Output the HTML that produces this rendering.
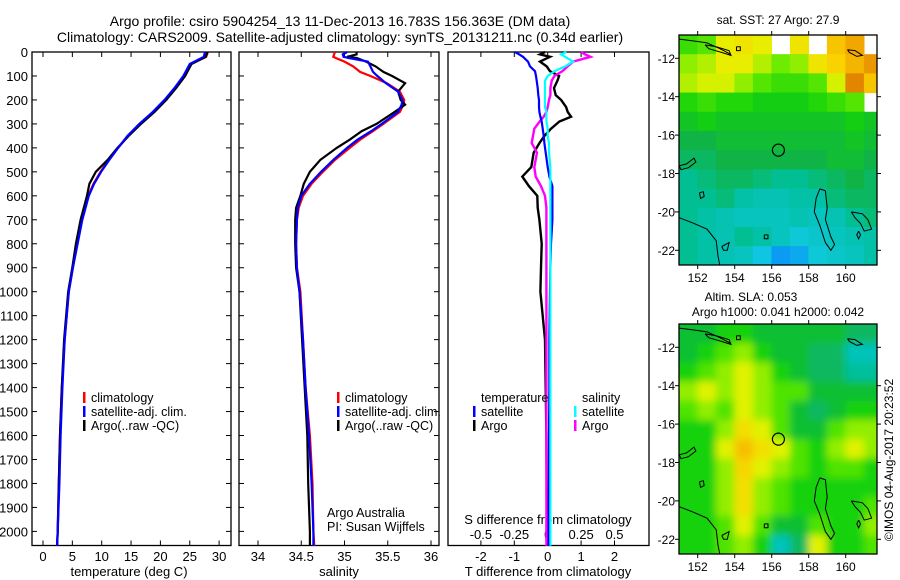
<!DOCTYPE html>
<html><head><meta charset="utf-8">
<style>
html,body{margin:0;padding:0;background:#fff;}
svg{display:block;font-family:"Liberation Sans",sans-serif;}
text{font-size:13px;fill:#000;}
</style></head>
<body>
<svg id="fig" width="900" height="580" viewBox="0 0 900 580" xmlns="http://www.w3.org/2000/svg">
<text x="340" y="26" text-anchor="middle" style="font-size:14px">Argo profile: csiro 5904254_13 11-Dec-2013 16.783S 156.363E (DM data)</text>
<text x="340" y="42" text-anchor="middle" style="font-size:14px">Climatology: CARS2009. Satellite-adjusted climatology: synTS_20131211.nc (0.34d earlier)</text>
<g id="g1"></g>
<g id="g2"></g>
<g id="g3"></g>
<g id="m1"></g>
<g id="m2"></g>
<text x="778" y="24" text-anchor="middle" style="font-size:12px">sat. SST: 27 Argo: 27.9</text>
<text x="751" y="301" text-anchor="middle" style="font-size:12px">Altim. SLA: 0.053</text>
<text x="778" y="316" text-anchor="middle" style="font-size:12px">Argo h1000: 0.041 h2000: 0.042</text>
<text transform="translate(893,460) rotate(-90)" text-anchor="middle" style="font-size:12px">©IMOS 04-Aug-2017 20:23:52</text>
</svg>
<script>
// ---------- profile data ----------
const depthT = [0,20,50,100,150,200,250,300,350,400,450,500,550,600,700,800,900,1000,1200,1400,1600,1800,2000,2060];
const tempClim = [28.1,27.8,25.2,24.0,22.5,20.8,18.8,16.5,14.5,12.8,11.2,9.8,8.6,7.7,6.6,5.8,5.1,4.4,3.7,3.2,2.9,2.7,2.5,2.4];
const tempSat  = [27.6,27.4,25.0,23.9,22.4,20.7,18.7,16.4,14.4,12.8,11.3,9.9,8.7,7.8,6.7,5.9,5.1,4.4,3.7,3.3,3.0,2.8,2.5,2.4];
const tempArgo = [28.0,27.7,25.3,24.2,22.7,21.0,19.0,16.7,14.6,12.7,11.0,9.0,7.9,7.5,6.4,5.6,5.0,4.3,3.6,3.2,2.9,2.7,2.5,2.4];

const depthS = [0,10,20,25,40,60,83,100,130,165,200,220,250,300,330,366,400,450,500,550,600,650,700,800,900,1000,1200,1400,1600,1800,2000,2060];
const salClim = [34.89,34.88,34.87,34.90,35.00,35.10,35.18,35.30,35.49,35.64,35.69,35.68,35.64,35.45,35.33,35.18,35.06,34.89,34.75,34.62,34.52,34.47,34.45,34.44,34.45,34.49,34.52,34.55,34.60,34.63,34.64,34.65];
const salSat  = [35.03,34.98,34.99,35.05,35.27,35.30,35.33,35.38,35.48,35.62,35.67,35.66,35.62,35.43,35.31,35.15,35.03,34.87,34.73,34.60,34.50,34.46,34.45,34.44,34.45,34.48,34.52,34.55,34.59,34.62,34.64,34.64];
const salArgo = [35.14,35.14,35.03,35.14,35.25,35.36,35.45,35.55,35.70,35.62,35.65,35.70,35.58,35.37,35.20,35.06,34.91,34.72,34.60,34.53,34.49,34.44,34.43,34.43,34.44,34.48,34.51,34.54,34.57,34.58,34.60,34.60];

const depthD = [0,10,20,40,60,80,100,120,150,180,200,230,250,270,290,320,350,380,420,480,520,560,600,650,700,800,900,1000,1100,1200,1400,1600,1800,2000,2060];
const dTsat  = [-0.98,-0.85,-0.74,-0.59,-0.53,-0.38,-0.35,-0.33,-0.30,-0.28,-0.26,-0.26,-0.25,-0.22,-0.18,-0.15,-0.12,-0.10,-0.06,0.00,0.05,0.14,0.14,0.14,0.14,0.10,0.08,0.07,0.06,0.05,0.05,0.04,0.04,0.03,0.03];
const dTargo = [-0.08,-0.23,0.07,-0.23,-0.03,0.07,0.34,0.29,0.19,0.24,0.40,0.55,0.60,0.70,0.35,0.10,-0.10,-0.25,-0.42,-0.49,-0.76,-0.56,-0.31,-0.30,-0.25,-0.18,-0.20,-0.22,-0.15,-0.08,-0.06,-0.04,-0.03,-0.02,-0.02];
const dSsat  = [0.14,0.10,0.13,0.19,0.13,0.05,0.00,-0.02,-0.02,-0.02,-0.02,-0.02,-0.01,-0.01,-0.01,0.00,0.00,0.01,0.01,0.02,0.02,0.02,0.02,0.02,0.02,0.02,0.02,0.02,0.02,0.02,0.02,0.02,0.02,0.02,0.02];
const dSargo = [0.25,0.28,0.32,0.19,0.15,0.11,0.05,0.03,0.02,0.02,0.01,0.00,-0.01,-0.03,-0.06,-0.10,-0.11,-0.12,-0.08,-0.10,-0.09,-0.05,-0.02,-0.01,-0.01,-0.01,-0.01,-0.01,-0.01,-0.01,-0.01,-0.01,-0.01,-0.01,-0.01];

const depthTicks = [0,100,200,300,400,500,600,700,800,900,1000,1100,1200,1300,1400,1500,1600,1700,1800,1900,2000];
const tempTicks = [0,5,10,15,20,25,30];
const salTicks = [34,34.5,35,35.5,36];
const salTickLabels = ["34","34.5","35","35.5","36"];
const dTTicks = [-2,-1,0,1,2];
const dSTicks = [-0.5,-0.25,0,0.25,0.5];
const dSTickLabels = ["-0.5","-0.25","0","0.25","0.5"];

// ---------- map data ----------
const mapLon = [151,152,153,154,155,156,157,158,159,160,161];
const mapLat = [-10.8,-11.8,-12.8,-13.8,-14.8,-15.8,-16.8,-17.8,-18.8,-19.8,-20.8,-21.8];
const sstGrid = [
 [27.9,28.0,28.5,28.6,28.5,null,28.6,null,28.9,29.1,null],
 [28.2,28.3,28.5,28.5,28.3,28.1,28.2,28.6,28.8,29.0,29.2],
 [28.3,28.4,28.4,28.2,28.0,27.9,27.9,28.0,28.4,29.3,28.9],
 [27.8,27.9,27.8,27.8,27.7,27.7,27.7,27.8,27.9,28.0,null],
 [27.6,27.7,27.6,27.6,27.6,27.6,27.6,27.6,27.6,27.7,27.6],
 [27.4,27.4,27.5,27.5,27.5,27.5,27.5,27.5,27.5,27.6,27.5],
 [27.3,27.3,27.4,27.4,27.4,27.4,27.4,27.4,27.5,27.5,27.4],
 [27.1,27.2,27.3,27.3,27.2,27.1,27.1,27.2,27.3,27.4,27.3],
 [27.1,27.1,27.2,27.0,26.9,26.9,27.0,27.0,27.2,27.3,27.3],
 [27.1,27.0,26.9,26.8,26.8,26.8,26.9,26.8,26.9,27.1,27.2],
 [27.1,27.0,26.9,27.1,27.0,26.8,26.6,26.7,26.8,26.9,27.0],
 [27.1,27.0,26.9,26.8,26.5,26.2,26.3,26.6,26.7,26.8,27.0]];
const slaGrid = [
 [.45,.45,.50,.50,.45,.45,.45,.45,.45,.40,.40],
 [.45,.50,.55,.60,.50,.45,.45,.40,.40,.30,.30],
 [.50,.55,.60,.65,.60,.50,.45,.40,.40,.35,.35],
 [.60,.65,.60,.65,.60,.55,.55,.45,.45,.45,.45],
 [.55,.60,.55,.65,.60,.55,.45,.40,.45,.50,.50],
 [.50,.50,.60,.70,.65,.55,.45,.45,.55,.60,.60],
 [.50,.50,.65,.76,.70,.65,.55,.50,.60,.65,.60],
 [.50,.50,.60,.72,.65,.60,.55,.50,.55,.55,.50],
 [.50,.50,.60,.70,.60,.55,.50,.50,.50,.50,.50],
 [.50,.50,.60,.70,.60,.55,.50,.50,.50,.50,.55],
 [.50,.50,.55,.65,.55,.45,.45,.55,.50,.50,.60],
 [.50,.50,.55,.60,.50,.30,.40,.65,.50,.50,.55]];
const lonTicks = [152,154,156,158,160];
const latTicks = [-12,-14,-16,-18,-20,-22];
const argoPos = [156.363,-16.783];

const NS="http://www.w3.org/2000/svg";
function mk(parent,tag,attrs,txt){const e=document.createElementNS(NS,tag);for(const k in attrs)e.setAttribute(k,attrs[k]);if(txt!==undefined)e.textContent=txt;parent.appendChild(e);return e;}

const Y0=52, Y1=545.5;
const yD = d => Y0 + d*0.2397;

function frame(g,x0,x1,name){
  const r=mk(g,'rect',{x:x0,y:Y0,width:x1-x0,height:Y1-Y0,fill:'none',stroke:'#000','stroke-width':1.3});
  
  
  depthTicks.forEach(d=>{
    const y=yD(d);
    mk(g,'line',{x1:x0,x2:x0+5,y1:y,y2:y,stroke:'#000'});
    mk(g,'line',{x1:x1,x2:x1-5,y1:y,y2:y,stroke:'#000'});
  });
}
function line(g,xs,ds,fx,color,name,w){
  const pts=xs.map((v,i)=>fx(v).toFixed(1)+','+yD(ds[i]).toFixed(1)).join(' ');
  const p=mk(g,'polyline',{points:pts,fill:'none',stroke:color,'stroke-width':w||2.2,'stroke-linejoin':'miter'});
  
  
}
function legend(g,x,y,items){
  items.forEach((it,i)=>{
    mk(g,'rect',{x:x,y:y+i*14-10,width:2.5,height:11,fill:it[0]});
    const t=mk(g,'text',{x:x+8,y:y+i*14,style:'font-size:12.5px'},it[1]);
    
    
  });
}

// ---- panel 1 temperature
const g1=document.getElementById('g1');
const xT=t=>43+t*5.87;
frame(g1,32,231,'temperature-plot-frame');
depthTicks.forEach(d=>{const t=mk(g1,'text',{x:28,y:yD(d)+5,'text-anchor':'end'},String(d));
  
  });
tempTicks.forEach(v=>{const x=xT(v);
  mk(g1,'line',{x1:x,x2:x,y1:Y0,y2:Y0+5,stroke:'#000'});mk(g1,'line',{x1:x,x2:x,y1:Y1,y2:Y1-5,stroke:'#000'});
  const t=mk(g1,'text',{x:x,y:561,'text-anchor':'middle'},String(v));
  
  });
{const t=mk(g1,'text',{x:129,y:576,'text-anchor':'middle'},'temperature (deg C)');}
line(g1,tempClim,depthT,xT,'#f00','temp-climatology-line');
line(g1,tempArgo,depthT,xT,'#000','temp-argo-line');
line(g1,tempSat,depthT,xT,'#00f','temp-satellite-line');
legend(g1,83,402,[['#f00','climatology'],['#00f','satellite-adj. clim.'],['#000','Argo(..raw -QC)']]);

// ---- panel 2 salinity
const g2=document.getElementById('g2');
const xS=s=>258+(s-34)*86.5;
frame(g2,239,439,'salinity-plot-frame');
salTicks.forEach((v,i)=>{const x=xS(v);
  mk(g2,'line',{x1:x,x2:x,y1:Y0,y2:Y0+5,stroke:'#000'});mk(g2,'line',{x1:x,x2:x,y1:Y1,y2:Y1-5,stroke:'#000'});
  const t=mk(g2,'text',{x:x,y:561,'text-anchor':'middle'},salTickLabels[i]);
  
  });
{const t=mk(g2,'text',{x:339,y:576,'text-anchor':'middle'},'salinity');}
line(g2,salClim,depthS,xS,'#f00','sal-climatology-line');
line(g2,salArgo,depthS,xS,'#000','sal-argo-line');
line(g2,salSat,depthS,xS,'#00f','sal-satellite-line');
legend(g2,337,402,[['#f00','climatology'],['#00f','satellite-adj. clim.'],['#000','Argo(..raw -QC)']]);
{const t=mk(g2,'text',{x:327,y:517,style:'font-size:12.5px'},'Argo Australia');
 const u=mk(g2,'text',{x:327,y:531,style:'font-size:12.5px'},'PI: Susan Wijffels');}

// ---- panel 3 differences
const g3=document.getElementById('g3');
const xDT=v=>547.7+v*33.4;
const xDS=v=>547.7+v*133.6;
{const r=mk(g3,'rect',{x:448,y:Y0,width:201,height:Y1-Y0,fill:'none',stroke:'#000','stroke-width':1.3});}
dTTicks.forEach(v=>{const x=xDT(v);
  mk(g3,'line',{x1:x,x2:x,y1:Y0,y2:Y0+5,stroke:'#000'});mk(g3,'line',{x1:x,x2:x,y1:Y1,y2:Y1-5,stroke:'#000'});
  const t=mk(g3,'text',{x:x,y:561,'text-anchor':'middle'},String(v));
  
  });
dSTicks.forEach((v,i)=>{const t=mk(g3,'text',{x:xDS(v),y:539,'text-anchor':'middle'},dSTickLabels[i]);
  
  });
{const t=mk(g3,'text',{x:548,y:576,'text-anchor':'middle'},'T difference from climatology');
 const u=mk(g3,'text',{x:548,y:524,'text-anchor':'middle'},'S difference from climatology');}
line(g3,dTargo,depthD,xDT,'#000','t-diff-argo-line',2.4);
line(g3,dSargo,depthD,xDS,'#f0f','s-diff-argo-line',2.4);
line(g3,dTsat,depthD,xDT,'#00f','t-diff-satellite-line',2.2);
line(g3,dSsat,depthD,xDS,'#0ff','s-diff-satellite-line',2.2);
{const t=mk(g3,'text',{x:481,y:402,style:'font-size:12.5px'},'temperature');
 const u=mk(g3,'text',{x:582,y:402,style:'font-size:12.5px'},'salinity');}
legend(g3,473,416,[['#00f','satellite'],['#000','Argo']]);
legend(g3,574,416,[['#0ff','satellite'],['#f0f','Argo']]);

// ---- maps
const stops=[[0,[10,128,255]],[0.15,[16,200,224]],[0.3,[0,192,160]],[0.4,[16,180,70]],[0.5,[20,210,10]],[0.6,[110,236,0]],[0.7,[230,242,0]],[0.8,[250,210,0]],[0.9,[240,160,0]],[1,[208,96,0]]];
function cmap(v){v=Math.max(0,Math.min(1,v));for(let i=1;i<stops.length;i++){if(v<=stops[i][0]){const a=stops[i-1],b=stops[i],f=(v-a[0])/(b[0]-a[0]);return 'rgb('+a[1].map((c,k)=>Math.round(c+(b[1][k]-c)*f)).join(',')+')';}}}
const coasts=[
 [[151.0,-11.0],[151.8,-11.1],[152.5,-11.2],[153.2,-11.5],[153.8,-11.8]],
 [[152.4,-11.3],[153.0,-11.4],[153.7,-11.6],[153.8,-11.85],[153.3,-11.7],[152.6,-11.5],[152.4,-11.3]],
 [[154.1,-11.4],[154.3,-11.4],[154.3,-11.6],[154.1,-11.6],[154.1,-11.4]],
 [[160.1,-11.55],[160.5,-11.6],[160.9,-11.85],[160.6,-11.9],[160.2,-11.7],[160.1,-11.55]],
 [[151.0,-17.6],[151.4,-17.5],[151.8,-17.2],[151.9,-17.4],[151.5,-17.7],[151.1,-17.8],[151.0,-17.6]],
 [[152.1,-19.0],[152.3,-18.95],[152.35,-19.2],[152.15,-19.3],[152.1,-19.0]],
 [[151.0,-20.3],[151.8,-20.6],[152.5,-20.9],[153.0,-21.5],[153.1,-22.3],[153.2,-22.8]],
 [[153.3,-21.8],[153.7,-21.6],[153.6,-22.0],[153.4,-22.0],[153.3,-21.8]],
 [[155.6,-21.2],[155.8,-21.2],[155.8,-21.4],[155.6,-21.4],[155.6,-21.2]],
 [[158.6,-18.8],[158.9,-18.9],[159.0,-19.8],[158.9,-20.4],[159.2,-21.3],[159.4,-21.7],[159.2,-22.0],[158.9,-21.6],[158.6,-20.7],[158.3,-20.0],[158.4,-19.3],[158.6,-18.8]],
 [[160.3,-20.0],[160.9,-20.1],[161.2,-20.4],[161.4,-20.9],[161.0,-21.0],[160.8,-20.6],[160.5,-20.3],[160.3,-20.0]],
 [[160.7,-21.0],[160.8,-21.2],[160.7,-21.4],[160.6,-21.2],[160.7,-21.0]]
];
function drawMap(id,top,grid,norm,clipId,name,blur){
  const g=document.getElementById(id);
  const L=679,R=877;
  const xL=lon=>697.7+(lon-152)*18.5;
  const yL=lat=>top+23.3+(-12-lat)*19.2;
  const bottom=top+230;
  const defs=mk(g,'defs',{});
  const cp=mk(defs,'clipPath',{id:clipId});mk(cp,'rect',{x:L,y:top,width:R-L,height:bottom-top});
  if(blur){const f=mk(defs,'filter',{id:clipId+'f',x:'-10%',y:'-10%',width:'120%',height:'120%'});mk(f,'feGaussianBlur',{stdDeviation:4});}
  const cells=mk(g,'g',{'clip-path':'url(#'+clipId+')'});
  const inner=mk(cells,'g',blur?{filter:'url(#'+clipId+'f)'}:{});
  const nr=grid.length, nc=grid[0].length;
  grid.forEach((row,r)=>row.forEach((v,c)=>{
    if(v===null)return;
    let x0=xL(mapLon[c]),x1=xL(mapLon[c]+1),y0=yL(mapLat[r]),y1=yL(mapLat[r]-1);
    if(blur){ if(c===0)x0-=15; if(c===nc-1)x1+=15; if(r===0)y0-=15; if(r===nr-1)y1+=15; }
    const e=mk(inner,'rect',{x:x0-0.3,y:y0-0.3,width:x1-x0+0.6,height:y1-y0+0.6,fill:cmap(norm(v))});
    
    
  }));
  coasts.forEach(cs=>{mk(cells,'polyline',{points:cs.map(p=>xL(p[0]).toFixed(1)+','+yL(p[1]).toFixed(1)).join(' '),fill:'none',stroke:'#000','stroke-width':1});});
  const c=mk(g,'circle',{cx:xL(argoPos[0]),cy:yL(argoPos[1]),r:6,fill:'none',stroke:'#000','stroke-width':1.2});
  
  
  const fr=mk(g,'rect',{x:L,y:top,width:R-L,height:bottom-top,fill:'none',stroke:'#000','stroke-width':1.3});
  
  
  lonTicks.forEach(lo=>{const x=xL(lo);
    mk(g,'line',{x1:x,x2:x,y1:top,y2:top-4,stroke:'#000'});mk(g,'line',{x1:x,x2:x,y1:bottom,y2:bottom+4,stroke:'#000'});
    const t=mk(g,'text',{x:x,y:bottom+17,'text-anchor':'middle',style:'font-size:12px'},String(lo));
    
    });
  latTicks.forEach(la=>{const y=yL(la);
    mk(g,'line',{x1:L,x2:L-4,y1:y,y2:y,stroke:'#000'});mk(g,'line',{x1:R,x2:R+4,y1:y,y2:y,stroke:'#000'});
    const t=mk(g,'text',{x:L-4,y:y+4.5,'text-anchor':'end',style:'font-size:12px'},String(la));
    
    });
}
drawMap('m1',35,sstGrid,v=>(v-26)/3.5,'clip1','sst-map',false);
drawMap('m2',324,slaGrid,v=>(v-0.5)*1.3+0.5,'clip2','sla-map',true);
</script>
</body></html>
